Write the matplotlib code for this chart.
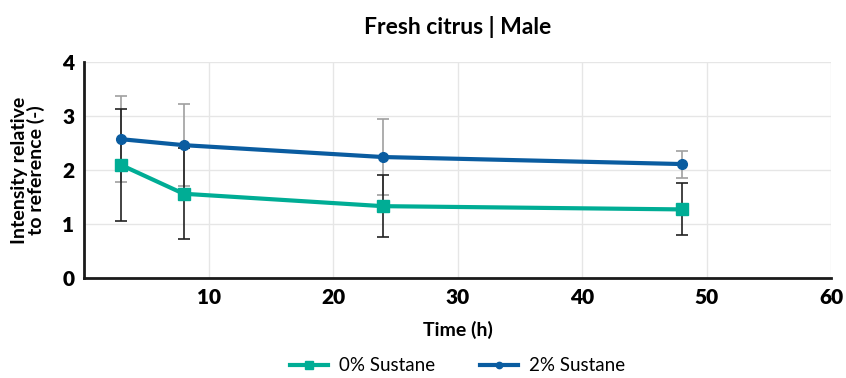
import matplotlib.pyplot as plt

# ----------------------------------
# Data
# ----------------------------------

time_h = [3, 8, 24, 48]

sustane_0 = [2.09, 1.56, 1.33, 1.27]
sustane_0_err = [1.04, 0.84, 0.58, 0.48]

sustane_2 = [2.57, 2.46, 2.24, 2.11]
sustane_2_err = [0.80, 0.76, 0.71, 0.25]

x_ticks = [10, 20, 30, 40, 50, 60]
y_ticks = [0, 1, 2, 3, 4]

teal = "#00ad95"
blue = "#0a5ca0"

plt.rcParams["font.family"] = ["Lato", "DejaVu Sans"]

# ----------------------------------
# Plot
# ----------------------------------

fig = plt.figure(figsize=(8.46, 3.78), dpi=100, facecolor="white")
ax = fig.add_axes([0.0993, 0.2646, 0.883, 0.5714])

ax.errorbar(
    time_h, sustane_2, yerr=sustane_2_err,
    fmt="none", ecolor="#a0a0a0", elinewidth=1.2,
    capsize=4, capthick=1.2, zorder=2
)
ax.errorbar(
    time_h, sustane_0, yerr=sustane_0_err,
    fmt="none", ecolor="#222222", elinewidth=1.2,
    capsize=4, capthick=1.2, zorder=2
)

ax.plot(
    time_h, sustane_0, color=teal, linewidth=3,
    marker="s", markersize=9, label="0% Sustane", zorder=3
)
ax.plot(
    time_h, sustane_2, color=blue, linewidth=3,
    marker="o", markersize=7, label="2% Sustane", zorder=4
)

# ----------------------------------
# Axes
# ----------------------------------

ax.set_xlim(0, 60)
ax.set_ylim(0, 4)
ax.set_xticks(x_ticks)
ax.set_yticks(y_ticks)

ax.grid(True, color="#e6e6e6", linewidth=1)
ax.set_axisbelow(True)

for side in ["top", "right"]:
    ax.spines[side].set_visible(False)
for side in ["left", "bottom"]:
    ax.spines[side].set_color("#1a1a1a")
    ax.spines[side].set_linewidth(2)

ax.tick_params(length=0, pad=7, labelsize=15)
for lbl in ax.get_xticklabels() + ax.get_yticklabels():
    lbl.set_fontweight("heavy")

ax.set_xlabel("Time (h)", fontsize=14, fontweight="bold", labelpad=10)
ax.set_ylabel(
    "Intensity relative\nto reference (-)",
    fontsize=14, fontweight="bold", labelpad=12, linespacing=0.95
)

ax.set_title("Fresh citrus | Male", fontsize=16.5, fontweight="bold", pad=20)

# ----------------------------------
# Legend
# ----------------------------------

ax.legend(
    loc="upper center", bbox_to_anchor=(0.5, -0.29),
    ncol=2, frameon=False, fontsize=13.5, markerscale=0.65,
    handlelength=2.0, columnspacing=2.4, handletextpad=0.6
)

plt.savefig("out.png", dpi=100)
